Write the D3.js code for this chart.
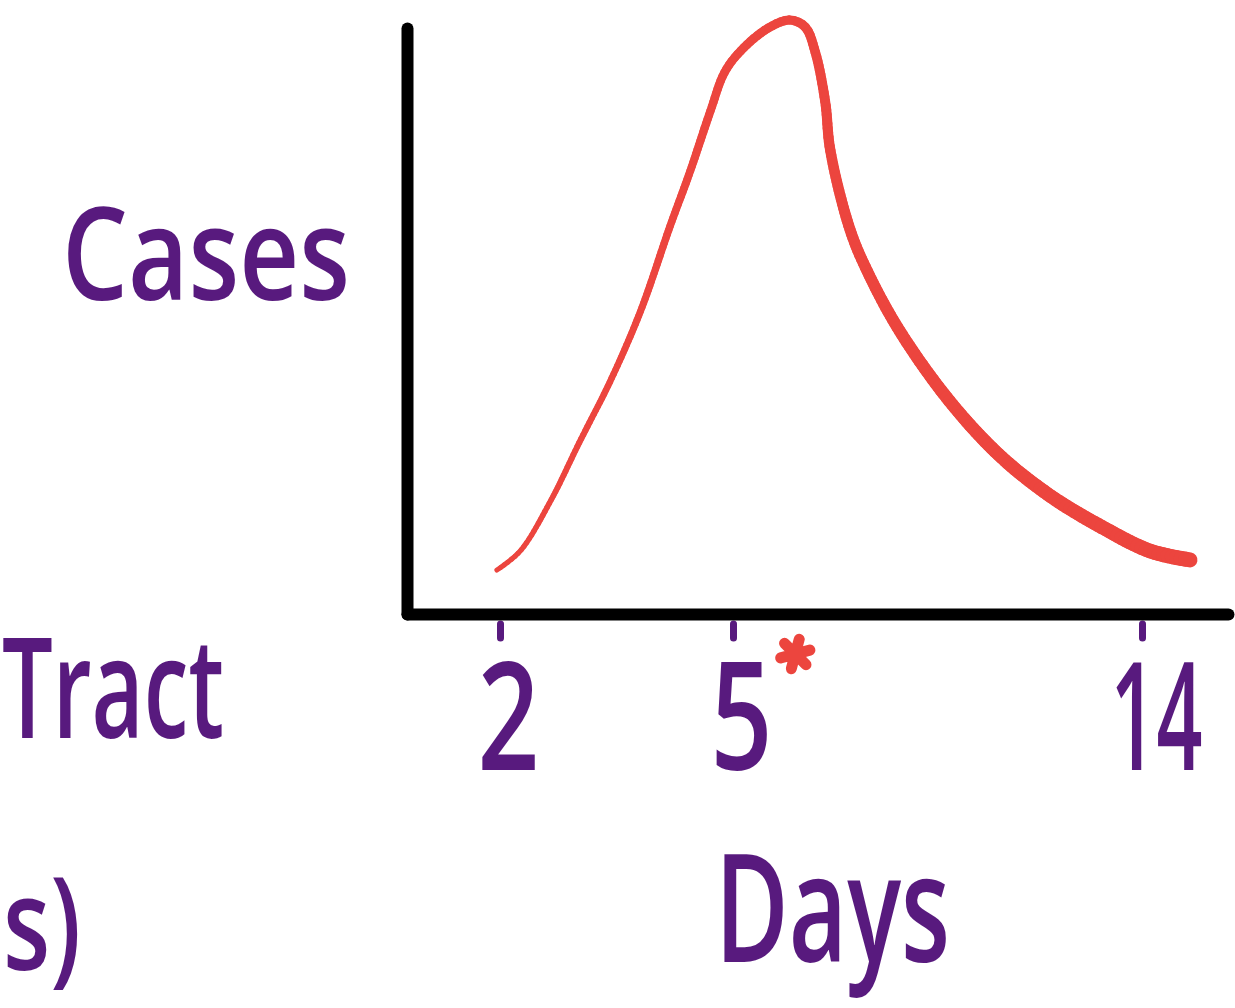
<!DOCTYPE html>
<html>
<head>
<meta charset="utf-8">
<script src="https://cdn.jsdelivr.net/npm/d3@7"></script>
<style>
  html, body { margin: 0; padding: 0; background: #fff; }
  svg { display: block; }
</style>
</head>
<body>
<svg></svg>
<script>
// Data
let days  = [1.96, 2.26, 2.65, 3.03, 3.42, 3.81, 4.19, 4.45, 4.71, 4.9, 5.26, 5.81, 6.26, 6.59, 6.81, 7.03, 7.14, 7.58, 8.0, 8.68, 9.78, 10.88, 11.98, 13.08, 14.18, 15.06];
let cases = [7.4, 10.6, 19.0, 29.1, 39.2, 51.0, 65.3, 74.6, 84.7, 91.4, 95.5, 98.8, 100, 98.8, 94.6, 86.2, 78.1, 64.6, 57.0, 47.5, 35.7, 26.6, 19.9, 14.8, 10.6, 9.1];
let tickDays = [2, 5, 14];
let peakDay = 6.26;
let xLabel = 'Days', yLabel = 'Cases';
let sideLabels = ['Tract', 's)'];

// SVG Dimensions
let width = 1235, height = 1008;
let purple = '#581a7e', red = '#ec453e';
let font = 'Open Sans';

let svg = d3.select('svg').attr('width', width).attr('height', height);

// hand-drawn axis is not evenly spaced, so use a piecewise linear scale
let x = d3.scaleLinear()
    .domain([0.8, 2, 5, 14, 15.9])
    .range([407, 500, 733, 1142, 1228]);
let y = d3.scaleLinear().domain([0, 100]).range([614, 20]);

// squeeze a text horizontally to a given width (handwriting is narrow)
function squeeze(sel, px, py, len, anchor) {
    sel.each(function () {
        let t = d3.select(this);
        let w = this.getComputedTextLength();
        let sx = len / w;
        let left = anchor === 'middle' ? px - len / 2 : px;
        t.attr('x', 0).attr('y', 0).attr('dy', 0)
            .attr('text-anchor', 'start')
            .attr('transform', 'translate(' + left + ',' + py + ') scale(' + sx + ',1)');
    });
}

// Axes
let xAxis = svg.append('g')
    .attr('transform', 'translate(0,' + y(0) + ')')
    .call(d3.axisBottom(x).tickValues(tickDays).tickSizeInner(26).tickSizeOuter(0).tickFormat(d3.format('d')));

xAxis.select('.domain')
    .attr('stroke', '#000').attr('stroke-width', 12).attr('stroke-linecap', 'round');
xAxis.selectAll('.tick line')
    .attr('stroke', purple).attr('stroke-width', 7).attr('stroke-linecap', 'round')
    .attr('y1', 10).attr('y2', 24);
xAxis.selectAll('.tick text')
    .attr('fill', purple)
    .attr('font-family', font)
    .attr('font-weight', 600)
    .attr('font-size', 150)
    .each(function (d) {
        squeeze(d3.select(this), d === 14 ? 14 : 8, 156, d === 14 ? 92 : 62, 'middle');
    });
xAxis.select('.domain').raise();

let yAxis = svg.append('g')
    .attr('transform', 'translate(' + x.range()[0] + ',0)')
    .call(d3.axisLeft(y.copy().range([614, 28])).tickValues([]).tickSizeOuter(0));
yAxis.select('.domain')
    .attr('stroke', '#000').attr('stroke-width', 12).attr('stroke-linecap', 'round');

// Curve - brush gets thicker towards the right
let line = d3.line()
    .x((d, i) => x(days[i]))
    .y((d) => y(d))
    .curve(d3.curveCatmullRom.alpha(0.5));

let guide = svg.append('path').attr('d', line(cases)).attr('fill', 'none').attr('stroke', 'none');
let node = guide.node();
let total = node.getTotalLength();
let steps = 300;
let pts = d3.range(steps + 1).map((i) => node.getPointAtLength(total * i / steps));
let widthAt = d3.scaleLinear().domain([0, steps * 0.45, steps]).range([5, 9, 15]);

svg.append('g').selectAll('line')
    .data(d3.range(steps))
    .enter()
    .append('line')
    .attr('x1', (i) => pts[i].x).attr('y1', (i) => pts[i].y)
    .attr('x2', (i) => pts[i + 1].x).attr('y2', (i) => pts[i + 1].y)
    .attr('stroke', red)
    .attr('stroke-width', (i) => widthAt(i))
    .attr('stroke-linecap', 'round');

// Asterisk under the peak
svg.append('path')
    .attr('d', d3.symbol(d3.symbolAsterisk, 650)())
    .attr('transform', 'translate(' + (x(peakDay) + 5) + ',' + (y(0) + 40) + ') rotate(15)')
    .attr('fill', 'none')
    .attr('stroke', red)
    .attr('stroke-width', 11)
    .attr('stroke-linecap', 'round');

// Labels
function label(txt, px, py, size, len) {
    let t = svg.append('text')
        .attr('fill', purple).attr('font-family', font).attr('font-weight', 600)
        .attr('font-size', size)
        .text(txt);
    squeeze(t, px, py, len, 'start');
}

label(yLabel, 62, 300, 128, 288);
label(xLabel, 715, 962, 150, 235);
label(sideLabels[0], 2, 738, 140, 222);
label(sideLabels[1], 3, 970, 128, 78);
</script>
</body>
</html>
